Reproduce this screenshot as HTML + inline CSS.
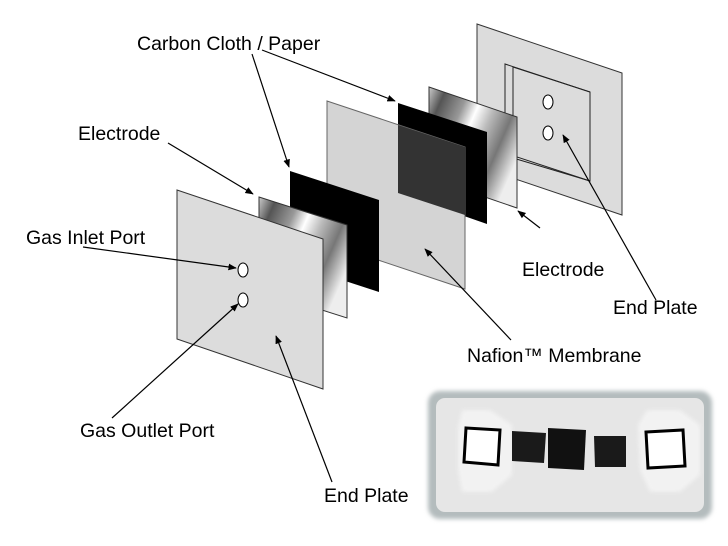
<!DOCTYPE html>
<html><head><style>
body{margin:0;background:#fff;width:728px;height:546px;overflow:hidden;font-family:"Liberation Sans",sans-serif}
svg{position:absolute;left:0;top:0}
</style></head><body>
<svg width="728" height="546" viewBox="0 0 728 546">
<defs>
<marker id="a" viewBox="0 0 10 10" refX="9" refY="5" markerWidth="7" markerHeight="7" orient="auto"><path d="M0,1 L10,5 L0,9 Z" fill="#000"/></marker>
<linearGradient id="g" x1="0" y1="0" x2="1" y2="0.6">
<stop offset="0" stop-color="#ccc"/><stop offset="0.15" stop-color="#555"/><stop offset="0.35" stop-color="#999"/><stop offset="0.48" stop-color="#fff"/><stop offset="0.62" stop-color="#bbb"/><stop offset="0.8" stop-color="#777"/><stop offset="1" stop-color="#eee"/></linearGradient>
<filter id="b"><feGaussianBlur stdDeviation="2"/></filter>
</defs>
<!-- back end plate -->
<polygon points="477,24 622,73 622,215 477,166" fill="#dcdcdc" stroke="#333" stroke-width="1"/>
<polyline points="505,155 505,64 590,92 590,181 505,153" fill="none" stroke="#222"/>
<polyline points="513,150 513,67 590,92" fill="none" stroke="#222"/>
<line x1="513" y1="158" x2="590" y2="181" stroke="#222"/>
<ellipse cx="548" cy="102" rx="5" ry="7" fill="#fff" stroke="#000"/>
<ellipse cx="548" cy="133" rx="5" ry="7" fill="#fff" stroke="#000"/>
<!-- right electrode -->
<polygon points="429,87 517,117 517,208 429,178" fill="url(#g)" stroke="#333"/>
<!-- right carbon -->
<polygon points="398,103 487,132 487,224 398,193" fill="#000"/>
<!-- nafion -->
<polygon points="327,101 465,147 465,289 327,243" fill="#d4d4d4" stroke="#666"/>
<polygon points="398,125 465,147 465,215 398,193" fill="#333"/>
<!-- left carbon -->
<polygon points="290,171 379,200 379,292 290,263" fill="#000"/>
<!-- left electrode -->
<polygon points="259,197 347,225 347,318 259,290" fill="url(#g)" stroke="#333"/>
<!-- front end plate -->
<polygon points="177,190 323,239 323,389 177,339" fill="#dcdcdc" stroke="#333"/>
<ellipse cx="243" cy="270" rx="5" ry="7" fill="#fff" stroke="#000"/>
<ellipse cx="243" cy="300" rx="5" ry="7" fill="#fff" stroke="#000"/>
<!-- arrows -->
<g stroke="#000" stroke-width="1.2" fill="none" marker-end="url(#a)">
<line x1="252" y1="54" x2="289" y2="167"/>
<line x1="262" y1="50" x2="395" y2="101"/>
<line x1="168" y1="143" x2="253" y2="194"/>
<line x1="83" y1="247" x2="236" y2="268"/>
<line x1="112" y1="418" x2="238" y2="304"/>
<line x1="332" y1="482" x2="276" y2="336"/>
<line x1="511" y1="340" x2="425" y2="249"/>
<line x1="540" y1="228" x2="518" y2="211"/>
<line x1="656" y1="300" x2="563" y2="135"/>
</g>
<g font-family="Liberation Sans, sans-serif" font-size="19.5" fill="#000">
<text x="137" y="50">Carbon Cloth / Paper</text>
<text x="78" y="140">Electrode</text>
<text x="26" y="244">Gas Inlet Port</text>
<text x="80" y="437">Gas Outlet Port</text>
<text x="324" y="502">End Plate</text>
<text x="467" y="362">Nafion™ Membrane</text>
<text x="522" y="276">Electrode</text>
<text x="613" y="314">End Plate</text>
</g>
<!-- photo -->
<rect x="428" y="391" width="284" height="128" rx="12" fill="#b4bcbd" filter="url(#b)"/>
<rect x="436" y="398" width="268" height="114" rx="9" fill="#e6e6e6"/>
<g filter="url(#b)" opacity="0.9"><polygon points="462,410 490,410 512,425 512,475 492,492 462,492 458,470 458,428" fill="#f4f4f4"/>
<polygon points="647,410 680,410 700,425 700,475 680,492 650,492 640,470 638,425" fill="#f4f4f4"/></g>
<polygon points="466,428 500,430 498,465 464,462" fill="#fff" stroke="#000" stroke-width="3"/>
<polygon points="512,431 546,433 544,463 512,461" fill="#1a1a1a"/>
<polygon points="548,428 586,430 584,470 548,468" fill="#111"/>
<polygon points="594,436 626,436 626,467 595,467" fill="#1a1a1a"/>
<polygon points="646,432 683,430 685,466 648,468" fill="#fff" stroke="#000" stroke-width="3"/>
</svg>
</body></html>
